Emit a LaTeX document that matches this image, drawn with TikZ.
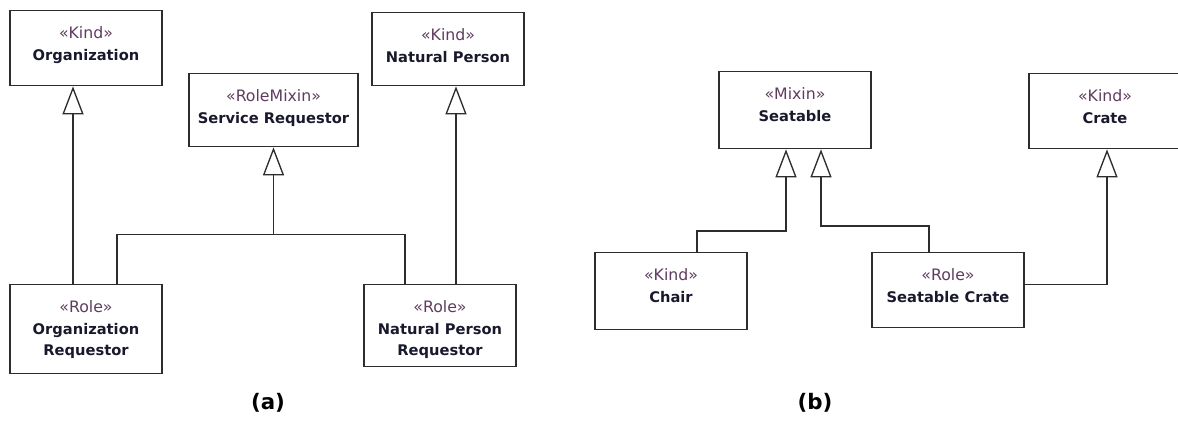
\documentclass[tikz,border=0pt]{standalone}
\usepackage{fontspec}
\setmainfont{DejaVu Sans}
\usetikzlibrary{arrows.meta,positioning}
\definecolor{stereocol}{RGB}{95,60,95}
\definecolor{namecol}{RGB}{25,25,45}
\definecolor{linecol}{RGB}{45,45,45}
\begin{document}
\begin{tikzpicture}[
			x=0.75pt, y=-0.75pt,
			class box/.style={draw=linecol, line width=1pt, minimum width=114pt, inner sep=0pt, anchor=north},
			class text/.style={font=\fontsize{11}{16}\selectfont\bfseries, align=center, inner sep=0pt, anchor=north, text=namecol},
			conn line/.style={draw=linecol, line width=1pt},
			gen/.style={conn line, -{Triangle[open, length=21pt, width=15.75pt, fill=white]}},
			caption node/.style={font=\fontsize{16}{18}\selectfont\bfseries, text=black}
			]
			\newcommand{\umlclass}[6][]{
				\node[class box, minimum height=#4, #1] (#2) at (#3) {};
				\node[class text] (#2-text) at ([yshift=-12.5pt]#2.north) {\textcolor{stereocol}{\fontsize{11.8}{16}\selectfont\mdseries «#5»}\\#6};
			}
			\useasboundingbox (0,0) rectangle (1178,421);
			% (a)
			\umlclass{org}{86,10}{56.25pt}{Kind}{Organization}
			\umlclass[minimum width=126.75pt]{service}{273.5,73}{54.75pt}{RoleMixin}{Service Requestor}
			\umlclass{natperson}{448,12}{54.75pt}{Kind}{Natural Person}
			\umlclass{orgreq}{86,284}{66.75pt}{Role}{Organization\\Requestor}
			\umlclass{npreq}{440,284}{61.5pt}{Role}{Natural Person\\Requestor}
			\coordinate (sjoin) at ([yshift=-65.25pt]service.south);
			\draw[gen] ([xshift=-9.75pt]orgreq.north) -- ([xshift=-9.75pt]org.south);
			\draw[gen] ([xshift=12pt]npreq.north) -- ([xshift=6pt]natperson.south);
			\draw[conn line] ([xshift=23.25pt]orgreq.north) |- (sjoin) -| ([xshift=-26.25pt]npreq.north);
			\draw[gen] (sjoin) -- (service.south);
			\node[caption node] (capa) at (268,403) {(a)};
			% (b)
			\umlclass{seatable}{795,71}{57.75pt}{Mixin}{Seatable}
			\umlclass{crate}{1105,73}{56.25pt}{Kind}{Crate}
			\umlclass{chair}{671,252}{57.75pt}{Kind}{Chair}
			\umlclass{scrate}{948,252}{56.25pt}{Role}{Seatable Crate}
			\draw[gen] ([xshift=19.5pt]chair.north) -- ++(0,-21) -| ([xshift=-6.75pt]seatable.south);
			\draw[gen] ([xshift=-14.25pt]scrate.north) -- ++(0,-26) -| ([xshift=19.5pt]seatable.south);
			\draw[gen] ([yshift=4.125pt]scrate.east) -| ([xshift=1.5pt]crate.south);
			\node[caption node] (capb) at (815,403) {(b)};
		\end{tikzpicture}
\end{document}
